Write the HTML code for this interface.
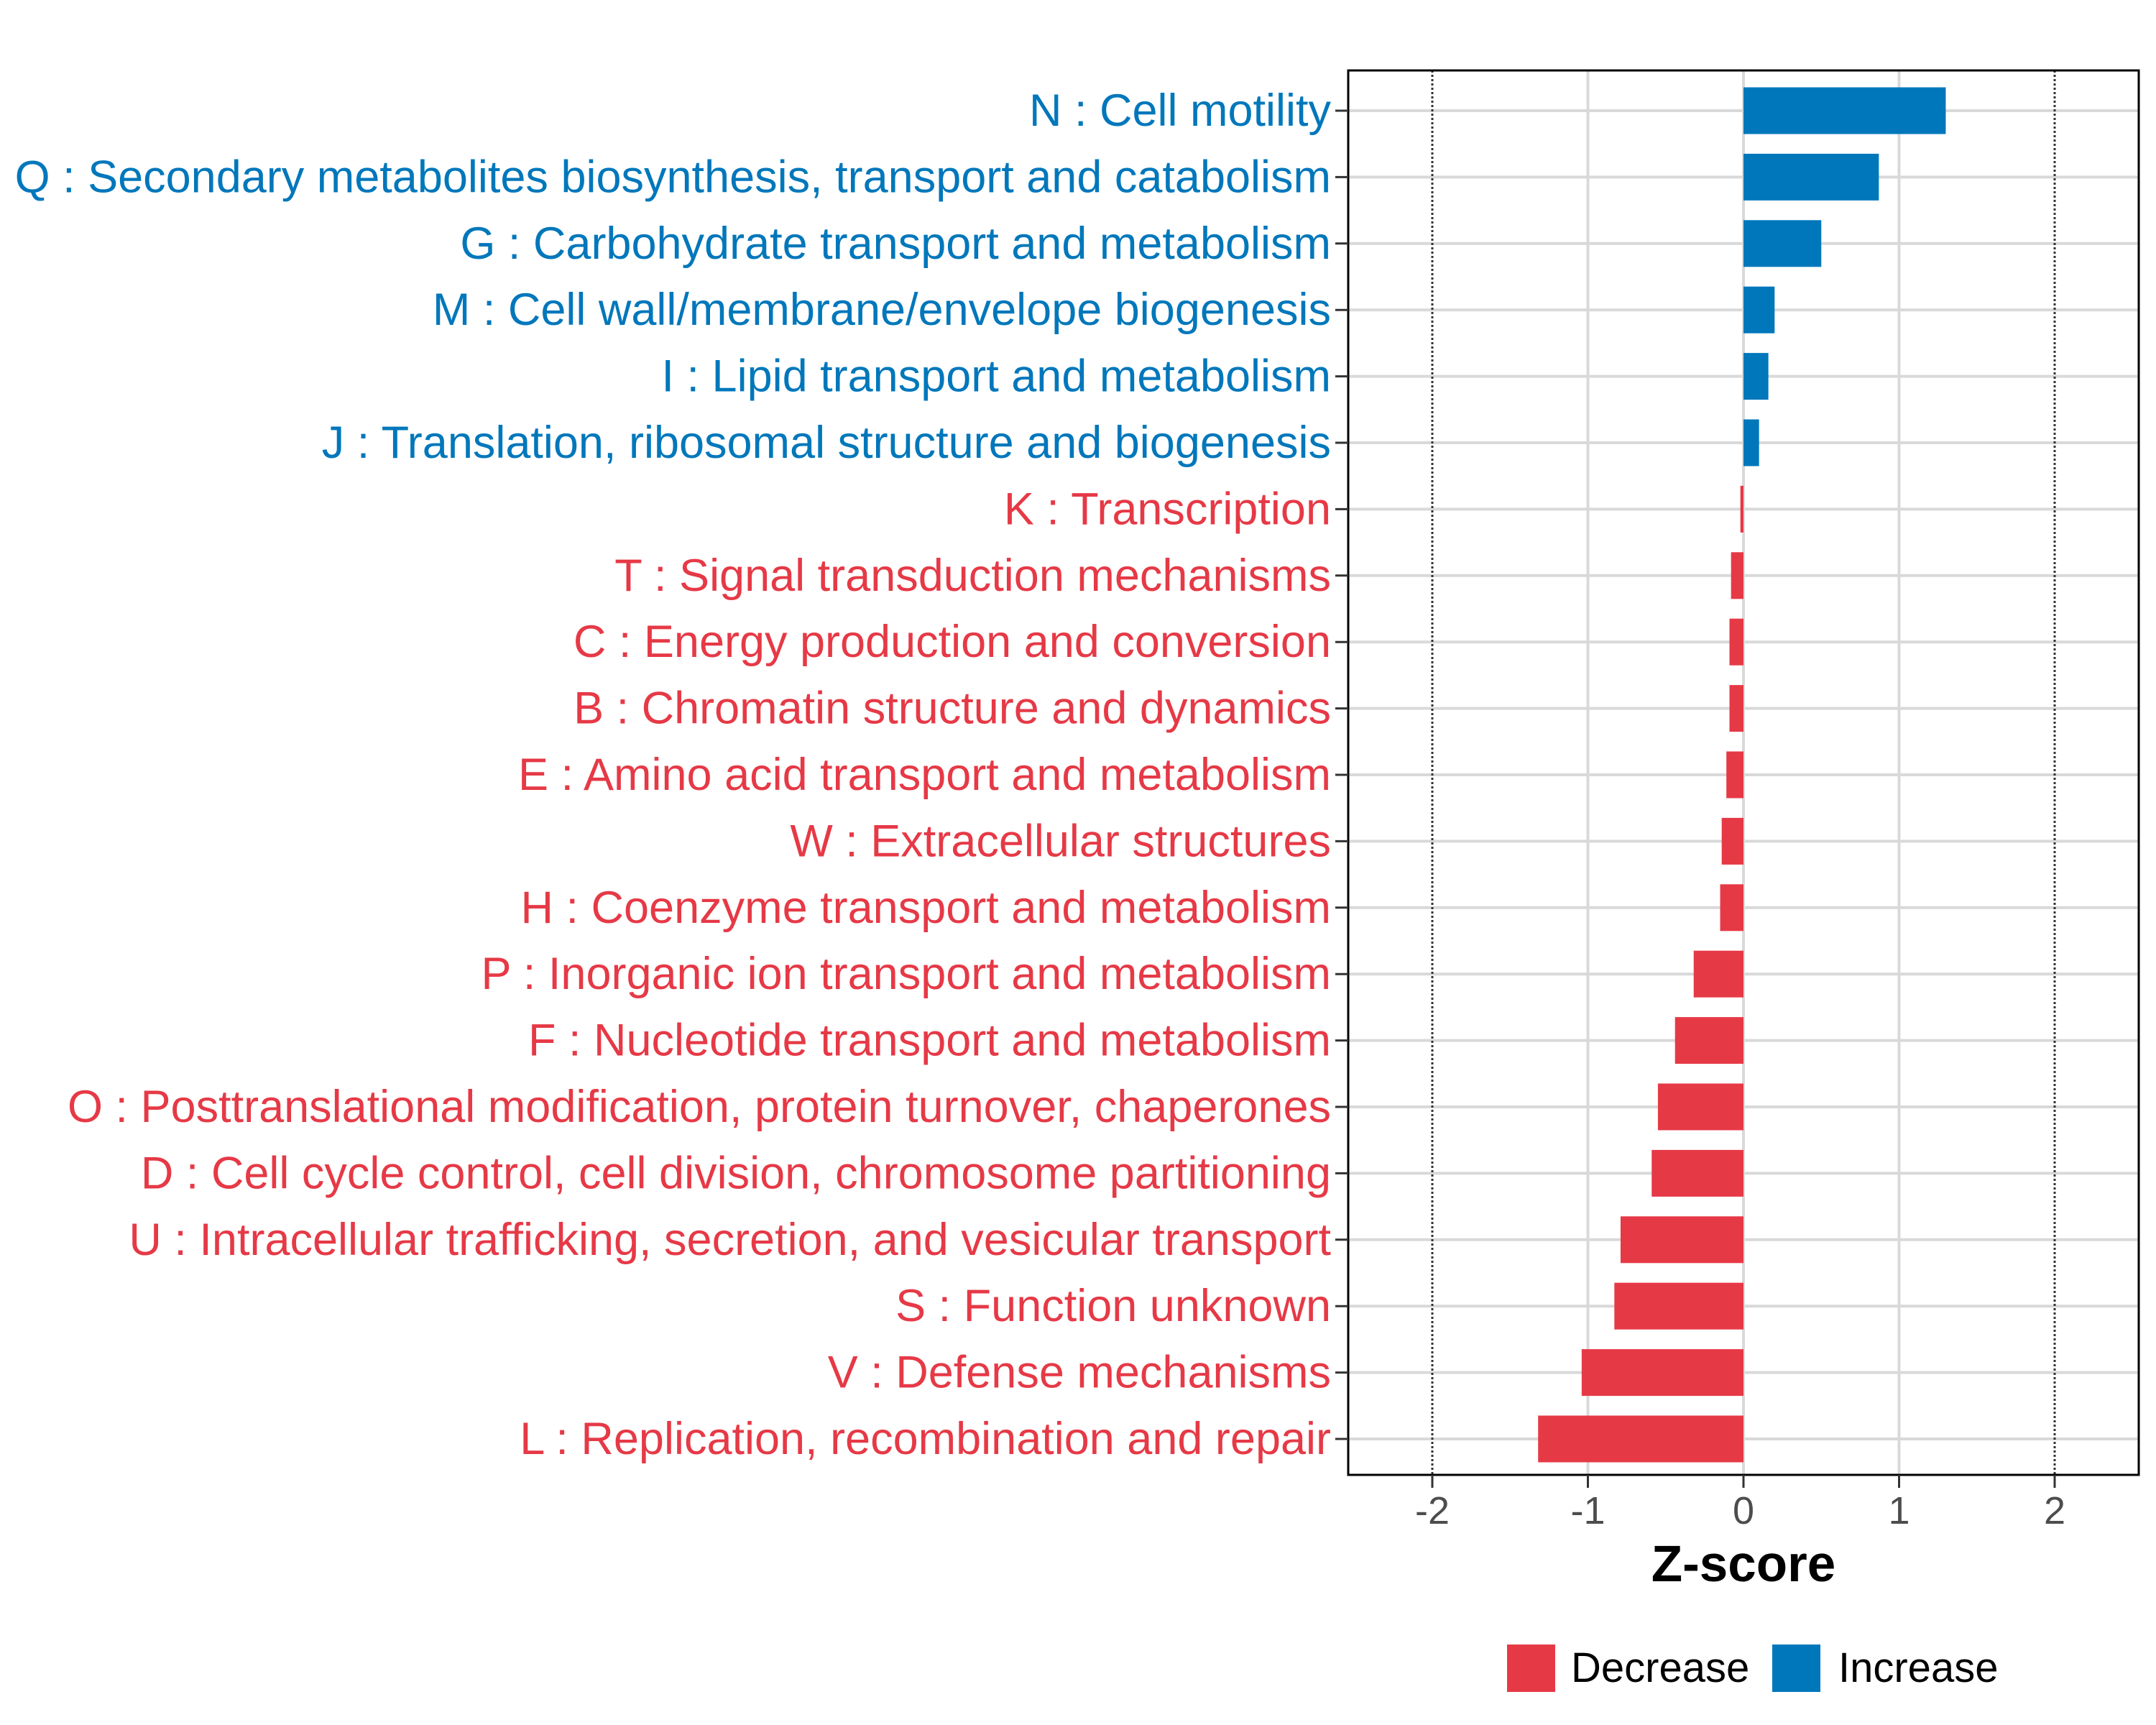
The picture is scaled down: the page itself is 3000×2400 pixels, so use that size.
<!DOCTYPE html>
<html><head><meta charset="utf-8"><style>
html,body{margin:0;padding:0;background:#fff;}
svg{display:block;font-family:"Liberation Sans",sans-serif;}
</style></head><body>
<svg id="chart" width="3000" height="2400" viewBox="0 0 3000 2400" xmlns="http://www.w3.org/2000/svg"></svg>
<script>
const categories = ["N : Cell motility","Q : Secondary metabolites biosynthesis, transport and catabolism","G : Carbohydrate transport and metabolism","M : Cell wall/membrane/envelope biogenesis","I : Lipid transport and metabolism","J : Translation, ribosomal structure and biogenesis","K : Transcription","T : Signal transduction mechanisms","C : Energy production and conversion","B : Chromatin structure and dynamics","E : Amino acid transport and metabolism","W : Extracellular structures","H : Coenzyme transport and metabolism","P : Inorganic ion transport and metabolism","F : Nucleotide transport and metabolism","O : Posttranslational modification, protein turnover, chaperones","D : Cell cycle control, cell division, chromosome partitioning","U : Intracellular trafficking, secretion, and vesicular transport","S : Function unknown","V : Defense mechanisms","L : Replication, recombination and repair"];
const zscores = [1.30,0.87,0.50,0.20,0.16,0.10,-0.02,-0.08,-0.09,-0.09,-0.11,-0.14,-0.15,-0.32,-0.44,-0.55,-0.59,-0.79,-0.83,-1.04,-1.32];
const xTicks = [-2,-1,0,1,2];
const xTickLabels = ["-2","-1","0","1","2"];
const thresholds = [-2,2];

const NS="http://www.w3.org/2000/svg";
const svg=document.getElementById('chart');
const L=1876,R=2976,T=98,B=2052;
const x0=2426, unit=216.5;
const X=v=>x0+v*unit;
const rowTop=154, rowStep=(2002-154)/(categories.length-1);
const Y=i=>rowTop+i*rowStep;
const BLUE="#0077bb", RED="#e63946";
function mk(tag,attrs,parent){const e=document.createElementNS(NS,tag);for(const k in attrs)e.setAttribute(k,attrs[k]);(parent||svg).appendChild(e);return e;}

xTicks.forEach((t,i)=>{
  if(thresholds.includes(t))return;
  const g=mk('line',{x1:X(t),x2:X(t),y1:T,y2:B,stroke:"#d9d9d9","stroke-width":4});
  
  
});
categories.forEach((c,i)=>{
  const g=mk('line',{x1:L,x2:R,y1:Y(i),y2:Y(i),stroke:"#d9d9d9","stroke-width":4});
  
  
});
thresholds.forEach(t=>{
  const g=mk('line',{x1:X(t),x2:X(t),y1:T,y2:B,stroke:"#333","stroke-width":3,"stroke-dasharray":"3,3"});
  
  
});
zscores.forEach((v,i)=>{
  const a=X(0), b=X(v);
  const r=mk('rect',{x:Math.min(a,b),y:Y(i)-32.5,width:Math.abs(b-a),height:65,fill:v>=0?BLUE:RED});
  
  
});
const pb=mk('rect',{x:L,y:T,width:R-L,height:B-T,fill:"none",stroke:"#000","stroke-width":3});


categories.forEach((c,i)=>{
  const tk=mk('line',{x1:L-18,x2:L,y1:Y(i),y2:Y(i),stroke:"#333","stroke-width":3});
  
  
  const t=mk('text',{x:1852,y:Y(i)+21,"text-anchor":"end","font-size":63,fill:zscores[i]>=0?BLUE:RED});
  t.textContent=c;
  
  
});
xTicks.forEach((t,i)=>{
  const tk=mk('line',{x1:X(t),x2:X(t),y1:B,y2:B+18,stroke:"#333","stroke-width":3});
  
  
  const lb=mk('text',{x:X(t),y:2120,"text-anchor":"middle","font-size":54,fill:"#4d4d4d"});
  lb.textContent=xTickLabels[i];
  
  
});
const xt=mk('text',{x:X(0),y:2200,"text-anchor":"middle","font-size":71,"font-weight":"bold",fill:"#000"});
xt.textContent="Z-score";


const l1=mk('rect',{x:2097,y:2288,width:67,height:66,fill:RED});


const t1=mk('text',{x:2186,y:2340,"font-size":58,fill:"#000"});t1.textContent="Decrease";


const l2=mk('rect',{x:2466,y:2288,width:67,height:66,fill:BLUE});


const t2=mk('text',{x:2558,y:2340,"font-size":58,fill:"#000"});t2.textContent="Increase";


</script>
</body></html>
